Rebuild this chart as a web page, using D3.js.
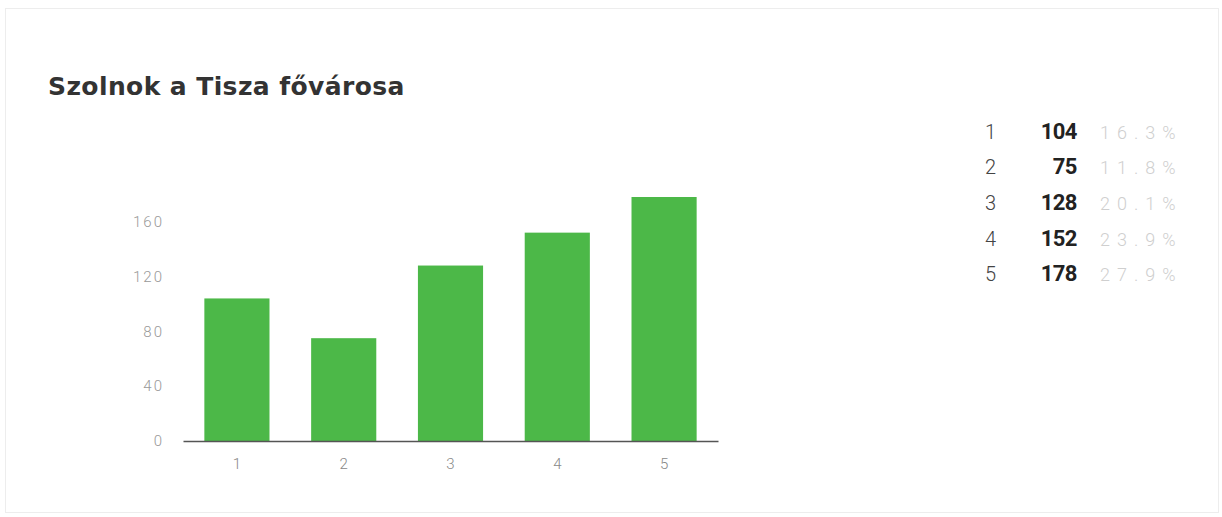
<!DOCTYPE html>
<html>
<head>
<meta charset="utf-8">
<script src="https://cdn.jsdelivr.net/npm/d3@7"></script>
<style>
  html, body { margin: 0; padding: 0; background: #fff; }
  svg { display: block; }
</style>
</head>
<body>
<svg id="chart" width="1222" height="517"></svg>
<script>
// Data
const categories = ['1', '2', '3', '4', '5'];
const values     = [104, 75, 128, 152, 178];
const yTicks     = [0, 40, 80, 120, 160];
const title      = 'Szolnok a Tisza fővárosa';

const svg = d3.select('#chart');
const W = 1222, H = 517;
const font = 'Roboto, sans-serif';

// faint frame
svg.append('rect')
  .attr('x', 5.5).attr('y', 8.5).attr('width', W - 9).attr('height', H - 13)
  .attr('fill', '#fff').attr('stroke', '#ededed').attr('stroke-width', 1);

svg.append('text')
  .attr('x', 48).attr('y', 95)
  .attr('font-family', '"DejaVu Sans", sans-serif')
  .attr('font-size', 25).attr('font-weight', 700)
  .attr('letter-spacing', 0.4)
  .attr('fill', '#333')
  .text(title);

// Scales
const x = d3.scaleBand().domain(categories).range([183, 718]).paddingInner(0.39).paddingOuter(0.2);
const y = d3.scaleLinear().domain([0, 178]).range([441, 197]);

const g = svg.append('g');

g.selectAll('rect.bar')
  .data(values)
  .join('rect')
  .attr('class', 'bar')
  .attr('x', (d, i) => x(categories[i]))
  .attr('y', d => y(d))
  .attr('width', x.bandwidth())
  .attr('height', d => y(0) - y(d))
  .attr('fill', '#4cb848');

// x axis line + labels
const xAxis = g.append('g').attr('transform', `translate(0,${y(0)})`)
  .call(d3.axisBottom(x).tickSize(0).tickPadding(17));
xAxis.select('.domain').attr('stroke', '#555').attr('stroke-width', 1.5);
xAxis.selectAll('text')
  .attr('font-family', font).attr('font-size', 15).attr('font-weight', 300).attr('fill', '#888');

// y axis labels only
const yAxis = g.append('g').attr('transform', 'translate(164,0)')
  .call(d3.axisLeft(y).tickValues(yTicks).tickSize(0).tickPadding(0));
yAxis.select('.domain').remove();
yAxis.selectAll('text')
  .attr('font-family', font).attr('font-size', 15).attr('font-weight', 300).attr('fill', '#999')
  .attr('letter-spacing', 2);

// Side table
const total = d3.sum(values);
const rowY = d3.scaleBand().domain(categories).range([114, 292]);
const table = svg.append('g').attr('font-family', font);
categories.forEach((c, i) => {
  const cy = rowY(c) + rowY.bandwidth() / 2 + 7;
  table.append('text').attr('x', 996).attr('y', cy).attr('text-anchor', 'end')
    .attr('font-size', 20).attr('font-weight', 300).attr('fill', '#444').text(c);
  table.append('text').attr('x', 1077).attr('y', cy).attr('text-anchor', 'end')
    .attr('font-size', 22).attr('font-weight', 700).attr('fill', '#222')
    .attr('letter-spacing', -0.5).text(values[i]);
  table.append('text').attr('x', 1100).attr('y', cy)
    .attr('font-size', 18).attr('font-weight', 300).attr('fill', '#cfcfcf').attr('letter-spacing', 7)
    .text((values[i] / total * 100).toFixed(1) + '%');
});
</script>
</body>
</html>
